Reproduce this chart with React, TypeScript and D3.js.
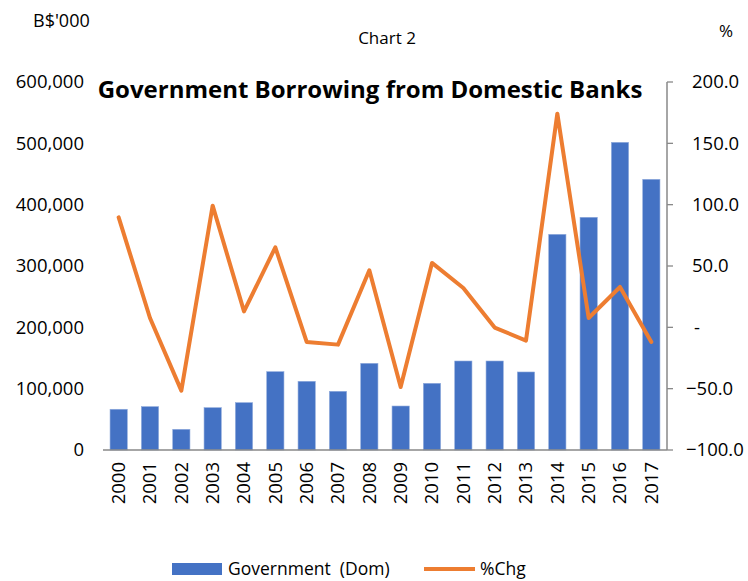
import React from "react";
import * as d3 from "d3";

const years = ["2000","2001","2002","2003","2004","2005","2006","2007","2008","2009","2010","2011","2012","2013","2014","2015","2016","2017"];
const govDom = [66400,70700,33700,69000,77200,127700,112000,95700,141300,71700,108700,145100,145100,127200,351600,379400,501600,441300];
const pctChg = [89.7,7.6,-51.6,99.2,13.0,65.2,-11.9,-14.1,46.5,-48.6,52.5,32.1,-0.2,-10.8,174.2,7.6,32.9,-11.9];
const leftTicks = [0,100000,200000,300000,400000,500000,600000];
const rightTicks = [-100,-50,0,50,100,150,200];

const W = 748, H = 581;
const L = 103, R = 667, T = 82, B = 450;
const FONT = "'Open Sans', sans-serif";

export default function App() {
  const x = d3.scaleBand<string>().domain(years).range([L, R]).paddingInner(0.45).paddingOuter(0.225);
  const yL = d3.scaleLinear().domain([0, 600000]).range([B, T]);
  const yR = d3.scaleLinear().domain([-100, 200]).range([B, T]);
  const fmtL = d3.format(",");
  const fmtR = (v: number) => (v === 0 ? "-" : d3.format(".1f")(v));
  const line = d3.line<number>()
    .x((_, i) => (x(years[i]) as number) + x.bandwidth() / 2)
    .y((d) => yR(d));
  const axisColor = "#898989";
  return (
    <div style={{ position: "absolute", left: 0, top: 0 }}>
      <svg width={W} height={H} style={{ display: "block", background: "#fff" }} fontFamily={FONT}>
        <text x={33} y={27} fontSize={18} fill="#000">B$'000</text>
        <text x={387} y={44} fontSize={17} fill="#000" textAnchor="middle">Chart 2</text>
        <text x={726} y={37} fontSize={17} fill="#000" textAnchor="middle">%</text>
        {leftTicks.map((t) => (
          <text key={t} x={84} y={yL(t)} dy="0.35em" textAnchor="end" fontSize={18.5} fill="#000">{fmtL(t)}</text>
        ))}
        {rightTicks.map((t) => (
          <g key={t}>
            <line x1={R} x2={R + 6} y1={yR(t)} y2={yR(t)} stroke={axisColor} strokeWidth={1.3} />
            <text x={t === 0 ? 694 : t < 0 ? 686 : 692} y={yR(t)} dy="0.35em" fontSize={18.5} fill="#000">{fmtR(t)}</text>
          </g>
        ))}
        {govDom.map((v, i) => (
          <rect key={years[i]} x={x(years[i])} y={yL(v)} width={x.bandwidth()} height={B - yL(v)} fill="#4472C4" stroke="#8FAADC" strokeWidth={0.6} />
        ))}
        <line x1={L} x2={R} y1={B} y2={B} stroke={axisColor} strokeWidth={1.5} />
        <line x1={R} x2={R} y1={T} y2={B} stroke={axisColor} strokeWidth={1.5} />
        <path d={line(pctChg) || ""} fill="none" stroke="#ED7D31" strokeWidth={4} strokeLinejoin="round" strokeLinecap="round" />
        {years.map((yr) => {
          const cx = (x(yr) as number) + x.bandwidth() / 2;
          return (
            <text key={yr} transform={`translate(${cx},${462}) rotate(-90)`} textAnchor="end" dy="0.35em" fontSize={18.5} fill="#000">{yr}</text>
          );
        })}
        <text x={370} y={98} textAnchor="middle" fontSize={24} fontWeight="bold" fill="#000">Government Borrowing from Domestic Banks</text>
        <rect x={172} y={563} width={50} height={12} fill="#4472C4" />
        <text x={228} y={575} fontSize={17.5} fill="#000" style={{ whiteSpace: "pre" }}>{"Government\u00a0\u00a0(Dom)"}</text>
        <line x1={424} x2={475} y1={569} y2={569} stroke="#ED7D31" strokeWidth={4} />
        <text x={480} y={575} fontSize={17.5} fill="#000">%Chg</text>
      </svg>
    </div>
  );
}
